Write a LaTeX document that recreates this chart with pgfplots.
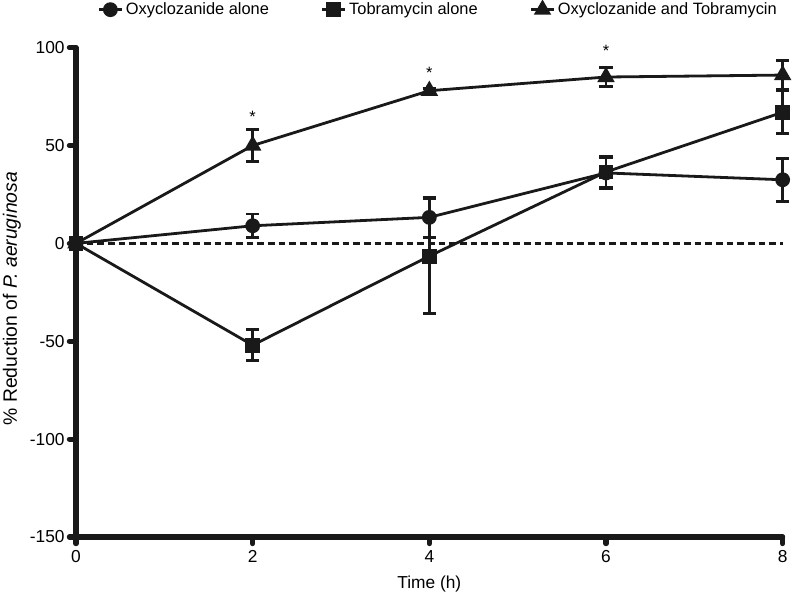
\documentclass[border=0pt]{standalone}
\usepackage{pgfplots}
\pgfplotsset{compat=1.18}
\usepackage{fontspec}
\setmainfont{Liberation Sans}
\begin{document}
\begin{tikzpicture}[font=\fontsize{12.3}{14}\selectfont]
\begin{axis}[
  scale only axis, width=530pt, height=367pt,
  xmin=0, xmax=8, ymin=-150, ymax=100,
  axis x line=bottom, axis y line=left,
  axis line style={-, line width=3.8pt, line cap=round, black!90},
  xtick={0,2,4,6,8}, ytick={-150,-100,-50,0,50,100},
  tick style={line width=3.8pt, line cap=round, black!90},
  tick align=outside, major tick length=5pt,
  xticklabel style={yshift=-1.5pt, font=\fontsize{13}{15}\selectfont},
  yticklabel style={font=\fontsize{13}{15}\selectfont},
  clip=false,
  /pgf/number format/assume math mode=true,
  ylabel={\% Reduction of \textit{P. aeruginosa}},
  every axis y label/.style={at={(axis description cs:-0.0906,0.487)}, rotate=90, anchor=center, font=\fontsize{14.5}{16}\selectfont},
  xlabel={Time (h)},
  xlabel style={yshift=-3pt, font=\fontsize{13}{15}\selectfont},
  legend columns=3,
  legend style={draw=none, fill=none, at={(0.513,1)}, anchor=center, yshift=28.5pt,
    /tikz/every even column/.append style={column sep=37pt}},
  error bars/error bar style={line width=2.1pt, solid},
  error bars/error mark options={rotate=90, mark size=5pt, line width=2.1pt, solid},
]
\addplot[forget plot, black!90, dash pattern=on 5pt off 3pt, line width=2.1pt] coordinates {(0,0) (8,0)};
\addplot[black!90, line width=2.1pt, mark=*, mark size=4.5pt, mark options={solid, fill=black!90},
  error bars/.cd, y dir=both, y explicit]
  coordinates {(0,0) +- (0,0) (2,9) +- (0,6) (4,13.3) +- (0,10.2) (6,36) +- (0,8) (8,32.5) +- (0,11)};
\addlegendentry{Oxyclozanide alone}
\addplot[black!90, line width=2.1pt, mark=square*, mark size=4.5pt, mark options={solid, fill=black!90},
  error bars/.cd, y dir=both, y explicit]
  coordinates {(0,0) +- (0,0) (2,-52) +- (0,8) (4,-6.5) +- (0,29.5) (6,36.5) +- (0,8) (8,67) +- (0,11)};
\addlegendentry{Tobramycin alone}
\addplot[black!90, line width=2.1pt, mark=triangle*, mark size=5.5pt, mark options={solid, fill=black!90},
  error bars/.cd, y dir=both, y explicit]
  coordinates {(0,0) +- (0,0) (2,50) +- (0,8) (4,78) +- (0,1) (6,85) +- (0,5) (8,86) +- (0,7.5)};
\addlegendentry{Oxyclozanide and Tobramycin}
\node at (axis cs:2,64.5) {*};
\node at (axis cs:4,87) {*};
\node at (axis cs:6,98.5) {*};
\end{axis}
\pgfresetboundingbox
\path (-57pt,-45.75pt) rectangle (537.75pt,402.75pt);
\end{tikzpicture}
\end{document}
